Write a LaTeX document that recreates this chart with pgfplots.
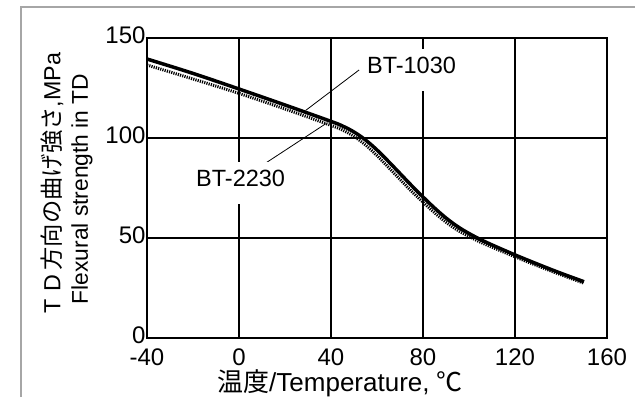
\documentclass[border=0pt]{standalone}
\usepackage{pgfplots}
\pgfplotsset{compat=1.18}
\usepackage{fontspec}
\setmainfont{Liberation Sans}
\newfontfamily\jp{Noto Sans CJK JP}

% Flexural strength (TD) versus temperature
\pgfplotstableread{
T    S
-40  139.5
-20  132.3
0    124.5
20   116.5
40   108.3
45   106.0
50   103.0
55   99.0
60   94.0
65   88.25
70   82.25
75   76.25
80   70.5
85   65.0
90   60.0
95   55.75
100  52.25
105  49.25
110  46.55
120  41.55
130  36.85
140  32.35
150  28.15
}\bta

\pgfplotstableread{
T    S
-40  136.5
-20  129.5
0    122.3
20   114.5
40   106.3
45   104.0
50   100.8
55   96.5
60   91.2
65   85.3
70   79.3
75   73.4
80   67.9
85   62.6
90   57.9
95   53.9
100  50.8
105  47.9
110  45.4
120  40.6
130  36.0
140  31.6
150  27.4
}\btb

\begin{document}
\begin{tikzpicture}[x=1pt,y=1pt]
\useasboundingbox (0,0) rectangle (635,397);
% page frame
\draw[gray!70, line width=1.2pt] (21,0) -- (21,390) -- (635,390);
\begin{axis}[
  at={(147pt,59pt)}, anchor=south west,
  scale only axis, width=460pt, height=300pt,
  xmin=-40, xmax=160, ymin=0, ymax=150,
  xtick={-40,0,40,80,120,160}, ytick={0,50,100,150},
  grid=major,
  grid style={black, line width=1.4pt},
  axis line style={black, line width=1.6pt},
  tick style={draw=none},
  /pgf/number format/assume math mode=true,
  tick label style={font=\fontsize{24}{27}\selectfont},
  xticklabel style={yshift=-7pt},
  yticklabel style={xshift=2pt, yshift=3pt},
  clip=false,
]
\addplot[black, line width=3pt, dash pattern=on 1.2pt off 1.1pt, smooth, tension=0.6] table[x=T,y=S] {\btb};
\addplot[black, line width=3.5pt, smooth, tension=0.6] table[x=T,y=S] {\bta};
% leader lines
\draw[black, line width=0.8pt] (axis cs:52.2,134) -- (axis cs:29,113.8);
\draw[black, line width=0.8pt] (axis cs:5,82.5) -- (axis cs:37.8,107.2);
% series labels
\node[fill=white, inner xsep=3pt, inner ysep=17pt, text height=0.72em, text depth=0pt,
  font=\fontsize{23.5}{26}\selectfont] at (axis cs:75,134) {BT-1030};
\node[fill=white, inner xsep=3pt, inner ysep=17pt, text height=0.72em, text depth=0pt,
  font=\fontsize{23.5}{26}\selectfont] at (axis cs:0.7,77.5) {BT-2230};
\end{axis}
% axis titles
\node[font=\fontsize{26}{30}\selectfont] at (340,14) {{\jp 温度}/Temperature, {\jp ℃}};
\node[rotate=90, font=\fontsize{23.3}{26}\selectfont] at (52,214) {T\,\,D\,{\jp 方向の曲げ強さ},MPa};
\node[rotate=90, font=\fontsize{22.8}{26}\selectfont] at (82,208) {Flexural strength in TD};
\end{tikzpicture}
\end{document}
